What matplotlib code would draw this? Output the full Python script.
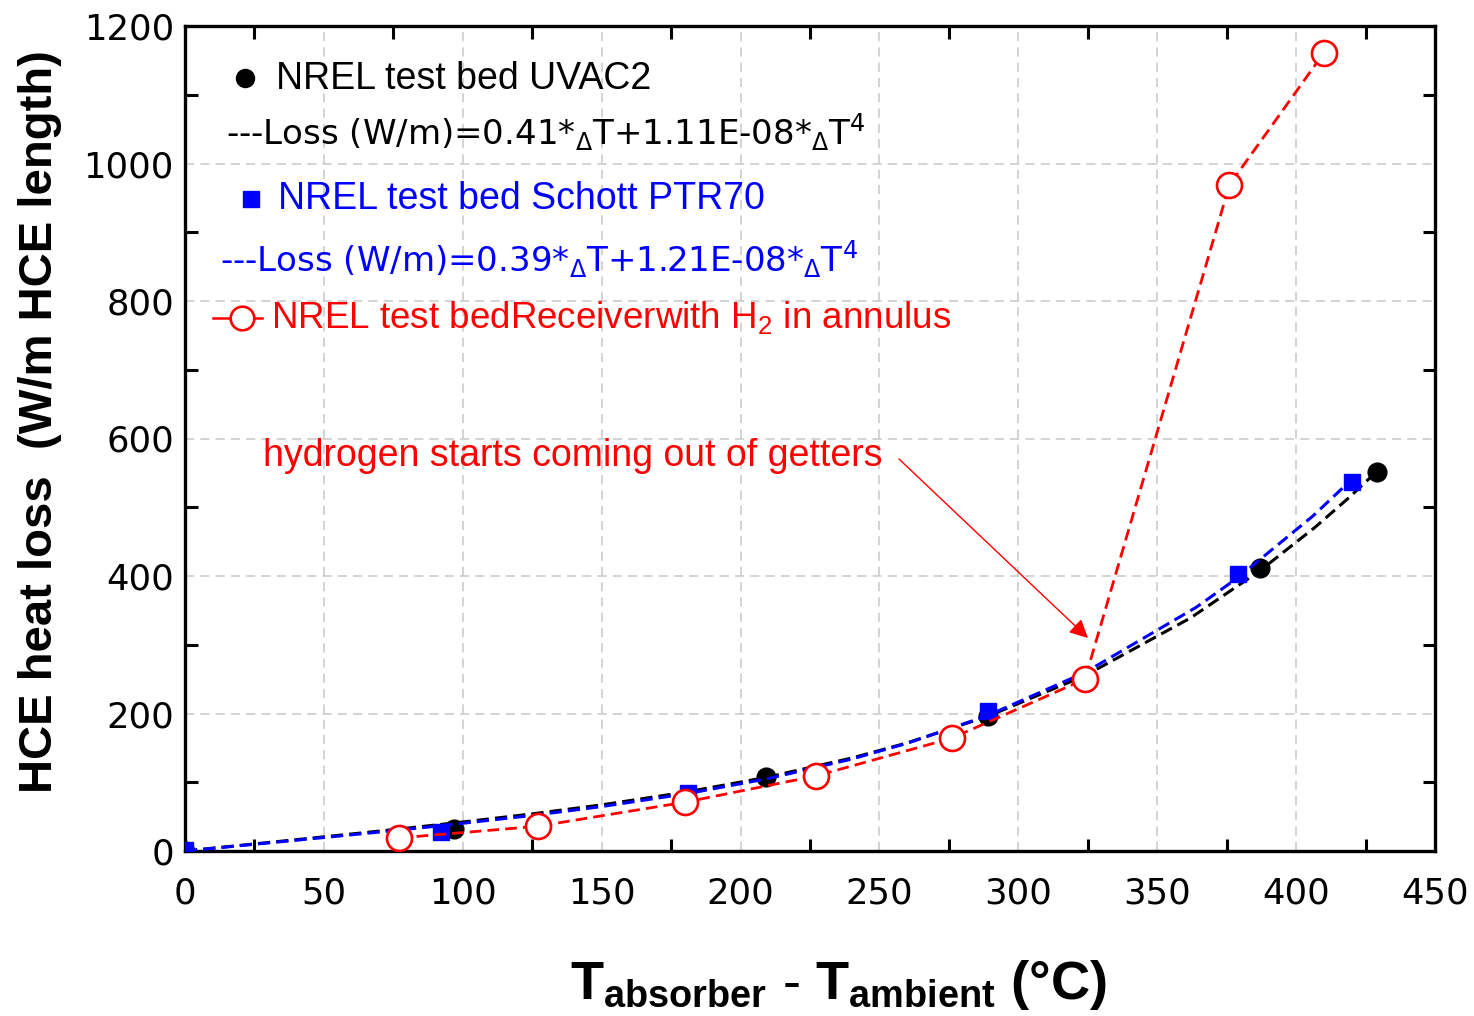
import matplotlib
matplotlib.use("Agg")
import matplotlib.pyplot as plt
from matplotlib.ticker import FixedLocator

plt.rcParams['font.family'] = ['Liberation Sans', 'DejaVu Sans']
plt.rcParams['mathtext.fontset'] = 'custom'
plt.rcParams['mathtext.rm'] = 'Liberation Sans'
plt.rcParams['mathtext.it'] = 'Liberation Sans:italic'
plt.rcParams['mathtext.bf'] = 'Liberation Sans:bold'

# ---- data ----
uvac2_x = [0, 97, 209, 289, 387, 429]
uvac2_y = [0, 32, 108, 197, 411, 551]

ptr70_x = [0, 92, 181, 289, 379, 420]
ptr70_y = [2, 28, 84, 204, 403, 537]

h2_x = [77, 127, 180, 227, 276, 324, 376, 410]
h2_y = [19, 36, 71, 109, 164, 250, 969, 1161]

# fitted loss curves
fit_black_x = [0, 25, 50, 75, 97, 125, 150, 180, 209, 240, 260, 289, 324, 362, 387, 407, 419, 429]
fit_black_y = [0, 10.3, 20.6, 31.1, 40.8, 54.0, 67.1, 85.5, 106.9, 135.2, 157.3, 195.9, 255.1, 339.0, 407.7, 471.5, 513.9, 551.9]

fit_blue_x = [0, 25, 50, 75, 92, 125, 150, 181, 210, 240, 260, 289, 324, 364, 379, 406, 420]
fit_blue_y = [0, 9.8, 19.6, 29.6, 36.7, 51.7, 64.6, 83.6, 105.4, 133.7, 156.7, 197.1, 259.7, 354.4, 397.5, 487.1, 540.4]

x_ticks = [0, 50, 100, 150, 200, 250, 300, 350, 400, 450]
y_ticks = [0, 200, 400, 600, 800, 1000, 1200]
x_minor = [25, 75, 125, 175, 225, 275, 325, 375, 425]
y_minor = [100, 300, 500, 700, 900, 1100]

W, H = 1474, 1016
fig = plt.figure(figsize=(W / 100, H / 100), dpi=100)
ax = fig.add_axes([185 / W, 1 - 851 / H, 1250 / W, 825 / H])

ax.set_xlim(0, 450)
ax.set_ylim(0, 1200)

dash = (4.0, 2.0)
ax.plot(fit_black_x, fit_black_y, color='black', lw=2.2, dashes=dash, zorder=3)
ax.plot(uvac2_x, uvac2_y, 'o', color='black', ms=13.5, zorder=4)
ax.plot(fit_blue_x, fit_blue_y, color='#0000ff', lw=2.2, dashes=dash, zorder=5)
ax.plot(ptr70_x, ptr70_y, 's', color='#0000ff', ms=11.5, zorder=6)
ax.plot(h2_x, h2_y, color='red', lw=2.0, dashes=(4.2, 2.2), marker='o', ms=18,
        mfc='white', mec='red', mew=1.9, zorder=7)

# grid and ticks
ax.set_xticks(x_ticks)
ax.set_yticks(y_ticks)
ax.xaxis.set_minor_locator(FixedLocator(x_minor))
ax.yaxis.set_minor_locator(FixedLocator(y_minor))
ax.grid(True, which='major', color='#c8c8c8', lw=1.1, dashes=(6, 4))
ax.set_axisbelow(True)
ax.tick_params(which='major', length=0, labelsize=25.5)
ax.tick_params(axis='x', which='major', pad=18)
ax.tick_params(axis='y', which='major', pad=8)
ax.tick_params(which='minor', direction='in', length=9, width=2.2,
               top=True, right=True, bottom=True, left=True)
for lab in ax.get_xticklabels() + ax.get_yticklabels():
    lab.set_fontfamily('DejaVu Sans')
for s in ax.spines.values():
    s.set_linewidth(2.4)

# legend-like annotations
def axp(px, py):
    return ((px - 185) / 1250, (851 - py) / 825)

ax.plot(*axp(245, 78), 'o', color='black', ms=13, transform=ax.transAxes, clip_on=False)
ax.text(*axp(276, 79), 'NREL test bed UVAC2', color='black', fontsize=27,
        ha='left', va='center', transform=ax.transAxes)
ax.text(*axp(226, 132), '---Loss (W/m)=0.41*$_{\\Delta}$T+1.11E-08*$_{\\Delta}$T$^{4}$',
        color='black', fontsize=24.5, family='DejaVu Sans', math_fontfamily='dejavusans',
        ha='left', va='center', transform=ax.transAxes)

ax.plot(*axp(251, 199), 's', color='#0000ff', ms=11, transform=ax.transAxes, clip_on=False)
ax.text(*axp(278, 199), 'NREL test bed Schott PTR70', color='#0000ff', fontsize=27,
        ha='left', va='center', transform=ax.transAxes)
ax.text(*axp(220, 259), '---Loss (W/m)=0.39*$_{\\Delta}$T+1.21E-08*$_{\\Delta}$T$^{4}$',
        color='#0000ff', fontsize=24.5, family='DejaVu Sans', math_fontfamily='dejavusans',
        ha='left', va='center', transform=ax.transAxes)

lx0, ly = axp(213, 318)
lx1, _ = axp(262, 318)
cx, _ = axp(242, 318)
ax.plot([lx0, lx1], [ly, ly], color='red', lw=1.8, transform=ax.transAxes, clip_on=False)
ax.plot(cx, ly, 'o', ms=17, mfc='white', mec='red', mew=1.9,
        transform=ax.transAxes, clip_on=False)
ax.text(*axp(271, 318), 'NREL test bedReceiverwith H$_2$ in annulus', color='red',
        fontsize=26.5, ha='left', va='center', transform=ax.transAxes)

# annotation
ax.annotate('', xy=(325.8, 307), xytext=(256.3, 573),
            arrowprops=dict(arrowstyle='-|>', color='red', lw=1.0, mutation_scale=28))
ax.text(*axp(263, 456), 'hydrogen starts coming out of getters', color='red',
        fontsize=27, ha='left', va='center', transform=ax.transAxes)

# axis labels
fig.text(40 / W, 1 - 422 / H, 'HCE heat loss  (W/m HCE length)', rotation=90,
         fontsize=34, fontweight='bold', ha='center', va='center')
fig.text(838 / W, 1 - 985 / H,
         r'$\mathbf{T_{absorber}}$ $\mathbf{\text{-}}$ $\mathbf{T_{ambient}}$ $\mathbf{(°C)}$',
         fontsize=39, ha='center', va='center')

fig.savefig('out.png', dpi=100)
